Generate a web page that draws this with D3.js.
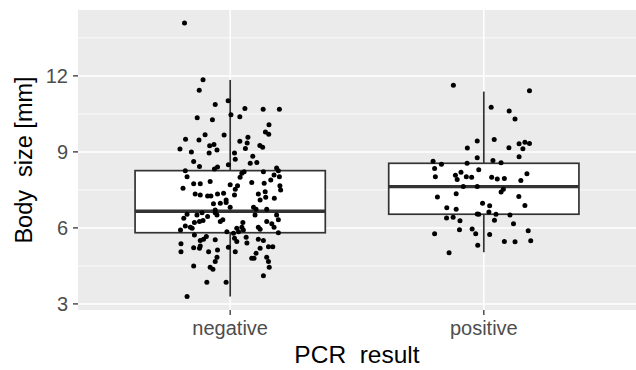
<!DOCTYPE html>
<html>
<head>
<meta charset="utf-8">
<script src="https://cdn.jsdelivr.net/npm/d3@7"></script>
<style>
  html, body { margin: 0; padding: 0; background: #fff; }
  svg { display: block; font-family: "Liberation Sans", Arial, Helvetica, sans-serif; }
</style>
</head>
<body>
<div id="chart"></div>
<script>
// ---- Data
const categories = ['negative', 'positive'];
const yTicks = [3, 6, 9, 12];
const yMinor = [4.5, 7.5, 10.5, 13.5];

// box stats per category: [lowerWhisker, q1, median, q3, upperWhisker]
const negativeBox = [3.29, 5.81, 6.66, 8.26, 11.84];
const positiveBox = [5.04, 6.54, 7.63, 8.55, 11.38];

// jittered observations: body size (mm) and horizontal jitter (in category units)
const negativeValues = [
  14.09, 11.85, 11.43, 11.02, 10.87, 10.71, 10.68, 10.68, 10.47, 10.39,
  10.35, 10.27, 10.07, 9.79, 9.70, 9.68, 9.67, 9.50, 9.47, 9.58,
  9.42, 9.35, 9.24, 9.29, 9.25, 9.18, 9.11, 9.13, 9.07, 9.00,
  8.96, 8.96, 8.83, 8.71, 8.62, 8.42, 8.40, 8.32, 8.49, 8.55,
  8.58, 8.26, 8.02, 8.16, 8.22, 8.00, 8.22, 8.36, 8.26, 8.09,
  8.02, 7.89, 7.83, 7.74, 7.74, 7.79, 7.76, 7.70, 7.66, 7.57,
  7.66, 7.50, 7.53, 7.34, 7.30, 7.26, 7.26, 7.34, 7.37, 7.30,
  7.34, 7.43, 7.21, 7.17, 7.10, 7.10, 6.95, 6.97, 7.00, 6.82,
  6.74, 6.71, 6.82, 6.74, 6.51, 6.51, 6.60, 6.54, 6.51, 6.60,
  6.45, 6.51, 6.32, 6.38, 6.29, 6.21, 6.25, 6.25, 6.32, 6.21,
  6.25, 6.16, 6.03, 6.08, 6.03, 5.99, 5.92, 5.99, 6.03, 5.92,
  6.03, 5.95, 5.81, 5.85, 5.79, 5.85, 5.72, 5.66, 5.55, 5.53,
  5.50, 5.59, 5.46, 5.63, 5.40, 5.55, 5.50, 5.37, 5.06, 5.22,
  5.20, 5.29, 5.06, 5.13, 5.24, 5.06, 5.20, 5.26, 5.26, 5.00,
  4.84, 4.67, 4.80, 4.80, 4.84, 4.67, 4.45, 4.37, 4.45, 4.50,
  4.11, 3.86, 3.86, 3.29
];
const negativeJitter = [
  -0.180, -0.107, -0.122, -0.008, -0.059, 0.058, 0.130, 0.194, 0.003, 0.038,
  -0.130, -0.070, 0.153, 0.139, 0.152, -0.099, -0.024, -0.176, -0.123, 0.070,
  0.038, 0.067, -0.081, -0.064, 0.117, 0.128, -0.198, 0.060, -0.052, -0.153,
  -0.083, 0.017, 0.089, 0.020, -0.144, -0.121, -0.050, -0.062, -0.007, 0.079,
  0.105, -0.177, -0.170, 0.046, 0.055, 0.039, 0.131, 0.183, 0.190, 0.173,
  0.194, 0.160, -0.079, -0.144, -0.118, 0.085, 0.134, 0.000, 0.029, -0.186,
  0.196, 0.199, 0.020, -0.138, -0.118, -0.089, -0.076, -0.050, -0.026, 0.017,
  0.111, 0.138, 0.140, 0.174, 0.118, -0.016, -0.066, -0.039, -0.016, 0.000,
  0.144, -0.059, 0.092, 0.102, 0.098, -0.052, -0.059, -0.170, -0.131, -0.111,
  -0.089, 0.183, 0.190, -0.183, -0.107, -0.141, -0.121, -0.039, -0.029, 0.050,
  0.144, 0.164, 0.173, -0.177, -0.157, -0.150, -0.196, 0.026, 0.046, 0.052,
  0.111, 0.118, 0.190, -0.013, 0.013, 0.033, -0.141, -0.094, -0.105, -0.059,
  -0.118, 0.017, 0.026, 0.063, 0.066, 0.111, 0.131, -0.194, -0.194, -0.144,
  -0.121, -0.118, -0.085, -0.050, -0.007, 0.020, 0.118, 0.151, 0.168, 0.102,
  0.144, 0.151, 0.085, 0.094, -0.052, -0.059, -0.079, -0.068, 0.154, -0.144,
  0.131, -0.092, -0.016, -0.170
];
const positiveValues = [
  11.63, 11.41, 10.76, 10.61, 10.30, 9.43, 9.49, 9.15, 9.16, 9.32,
  9.38, 9.33, 9.12, 8.81, 8.77, 8.63, 8.51, 8.55, 8.66, 8.57,
  8.34, 8.30, 8.14, 8.02, 8.08, 8.20, 7.91, 8.02, 8.00, 8.00,
  7.93, 7.95, 7.87, 7.63, 7.63, 7.53, 7.42, 7.35, 7.22, 7.24,
  6.97, 6.87, 6.88, 6.80, 6.74, 6.63, 6.55, 6.54, 6.54, 6.51,
  6.39, 6.42, 6.30, 6.28, 6.16, 5.93, 5.96, 5.77, 5.77, 5.74,
  5.89, 5.46, 5.45, 5.49, 5.32, 5.02
];
const positiveJitter = [
  -0.120, 0.180, 0.029, 0.100, 0.123, -0.026, 0.041, -0.065, 0.099, 0.139,
  0.162, 0.180, 0.154, 0.139, -0.026, -0.200, -0.167, -0.066, 0.036, 0.068,
  -0.194, -0.020, 0.170, -0.191, -0.112, -0.090, -0.105, -0.069, -0.048, 0.031,
  0.053, 0.081, 0.146, -0.081, -0.026, 0.077, 0.068, -0.109, -0.183, 0.138,
  -0.005, 0.023, 0.162, -0.146, -0.109, 0.020, -0.026, -0.020, 0.048, 0.103,
  -0.147, -0.121, 0.042, -0.094, 0.117, -0.096, -0.046, -0.032, -0.194, 0.023,
  0.175, 0.081, 0.123, 0.185, -0.024, -0.137
];

const groups = [
  { cat: 'negative', box: negativeBox, values: negativeValues, jitter: negativeJitter },
  { cat: 'positive', box: positiveBox, values: positiveValues, jitter: positiveJitter }
];

// ---- Layout
const width = 636, height = 370;
const margin = { top: 10, right: 0, bottom: 60, left: 78 };
const panelW = width - margin.left - margin.right;
const panelH = height - margin.top - margin.bottom;

const svg = d3.select('#chart')
  .append('svg')
  .attr('width', width)
  .attr('height', height);

const x = d3.scalePoint()
  .domain(categories)
  .range([margin.left, margin.left + panelW])
  .padding(0.6);

const y = d3.scaleLinear()
  .domain([2.76, 14.6])
  .range([margin.top + panelH, margin.top]);

const step = x.step();

// ---- Panel background + grid
svg.append('rect')
  .attr('x', margin.left).attr('y', margin.top)
  .attr('width', panelW).attr('height', panelH)
  .attr('fill', '#EBEBEB');

svg.append('g').selectAll('line')
  .data(yMinor)
  .join('line')
  .attr('x1', margin.left).attr('x2', margin.left + panelW)
  .attr('y1', d => y(d)).attr('y2', d => y(d))
  .attr('stroke', '#fff').attr('stroke-width', 0.8);

svg.append('g').selectAll('line')
  .data(yTicks)
  .join('line')
  .attr('x1', margin.left).attr('x2', margin.left + panelW)
  .attr('y1', d => y(d)).attr('y2', d => y(d))
  .attr('stroke', '#fff').attr('stroke-width', 1.5);

svg.append('g').selectAll('line')
  .data(categories)
  .join('line')
  .attr('x1', d => x(d)).attr('x2', d => x(d))
  .attr('y1', margin.top).attr('y2', margin.top + panelH)
  .attr('stroke', '#fff').attr('stroke-width', 1.5);

// ---- Boxplots
const boxColor = '#333333';
const boxes = svg.append('g').selectAll('g')
  .data(groups)
  .join('g');

// whiskers
boxes.append('line')
  .attr('x1', d => x(d.cat)).attr('x2', d => x(d.cat))
  .attr('y1', d => y(d.box[3])).attr('y2', d => y(d.box[4]))
  .attr('stroke', boxColor).attr('stroke-width', 1.7);
boxes.append('line')
  .attr('x1', d => x(d.cat)).attr('x2', d => x(d.cat))
  .attr('y1', d => y(d.box[1])).attr('y2', d => y(d.box[0]))
  .attr('stroke', boxColor).attr('stroke-width', 1.7);

boxes.append('rect')
  .attr('x', d => x(d.cat) - step * 0.375)
  .attr('width', step * 0.75)
  .attr('y', d => y(d.box[3]))
  .attr('height', d => y(d.box[1]) - y(d.box[3]))
  .attr('fill', '#fff')
  .attr('stroke', boxColor).attr('stroke-width', 1.7);

boxes.append('line')
  .attr('x1', d => x(d.cat) - step * 0.375)
  .attr('x2', d => x(d.cat) + step * 0.375)
  .attr('y1', d => y(d.box[2])).attr('y2', d => y(d.box[2]))
  .attr('stroke', boxColor).attr('stroke-width', 3.4);

// ---- Jittered points
groups.forEach(g => {
  svg.append('g').selectAll('circle')
    .data(g.values.map((v, i) => ({ v, j: g.jitter[i] })))
    .join('circle')
    .attr('cx', d => x(g.cat) + d.j * step)
    .attr('cy', d => y(d.v))
    .attr('r', 2.5)
    .attr('fill', '#000');
});

// ---- Axes
const tickColor = '#333333';
const labelColor = '#4D4D4D';

const yAxis = svg.append('g');
yAxis.selectAll('line')
  .data(yTicks)
  .join('line')
  .attr('x1', margin.left - 5).attr('x2', margin.left)
  .attr('y1', d => y(d)).attr('y2', d => y(d))
  .attr('stroke', tickColor).attr('stroke-width', 1.3);
yAxis.selectAll('text')
  .data(yTicks)
  .join('text')
  .attr('x', margin.left - 10)
  .attr('y', d => y(d))
  .attr('dy', '0.36em')
  .attr('text-anchor', 'end')
  .attr('fill', labelColor)
  .style('font-size', '20px')
  .text(d => d);

const xAxis = svg.append('g');
xAxis.selectAll('line')
  .data(categories)
  .join('line')
  .attr('x1', d => x(d)).attr('x2', d => x(d))
  .attr('y1', margin.top + panelH).attr('y2', margin.top + panelH + 5)
  .attr('stroke', tickColor).attr('stroke-width', 1.3);
xAxis.selectAll('text')
  .data(categories)
  .join('text')
  .attr('x', d => x(d))
  .attr('y', 335)
  .attr('text-anchor', 'middle')
  .attr('fill', labelColor)
  .style('font-size', '20px')
  .text(d => d);

// ---- Axis titles
svg.append('text')
  .attr('x', margin.left + panelW / 2)
  .attr('y', 363)
  .attr('text-anchor', 'middle')
  .attr('fill', '#000')
  .style('font-size', '24.5px')
  .text('PCR\u00A0 result');

svg.append('text')
  .attr('transform', `translate(32, ${margin.top + panelH / 2}) rotate(-90)`)
  .attr('text-anchor', 'middle')
  .attr('fill', '#000')
  .style('font-size', '23.5px')
  .text('Body\u00A0 size [mm]');
</script>
</body>
</html>
